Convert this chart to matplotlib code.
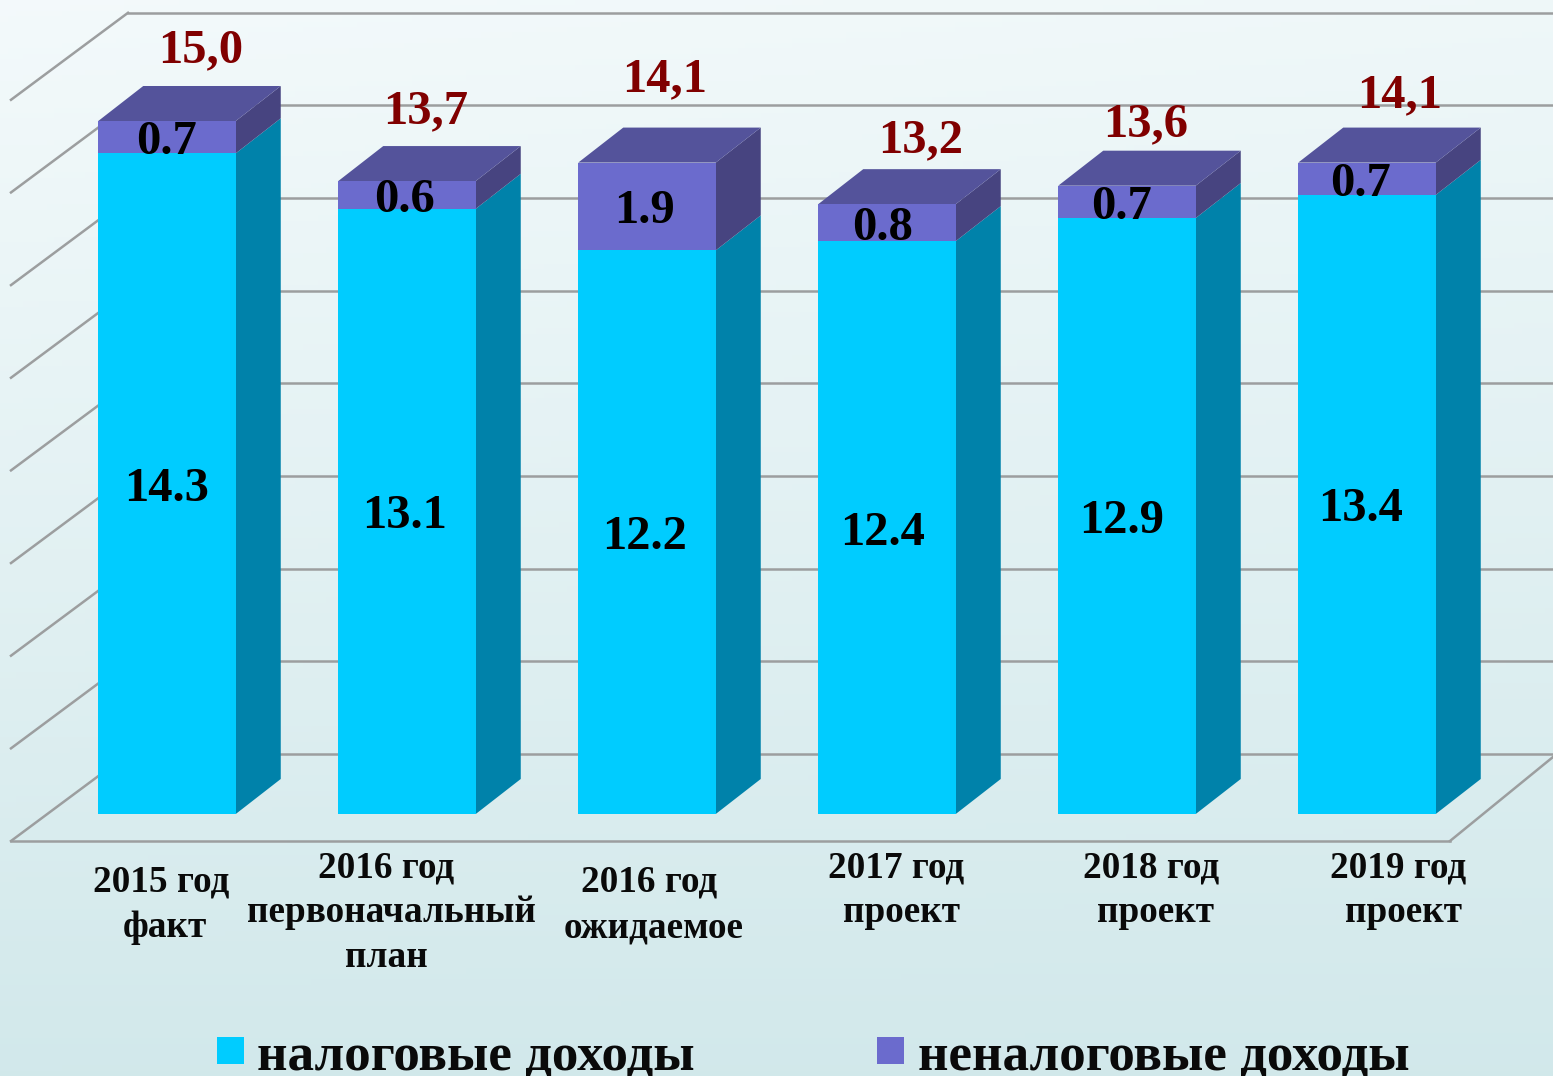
import numpy as np
import matplotlib
matplotlib.use("Agg")
import matplotlib.pyplot as plt

plt.rcParams['font.family'] = ['Liberation Serif', 'DejaVu Serif']
plt.rcParams['font.weight'] = 'bold'

# Data
categories = [["2015 год", "факт"], ["2016 год", "первоначальный", "план"], ["2016 год", "ожидаемое"],
              ["2017 год", "проект"], ["2018 год", "проект"], ["2019 год", "проект"]]
tax = [14.3, 13.1, 12.2, 12.4, 12.9, 13.4]
nontax = [0.7, 0.6, 1.9, 0.8, 0.7, 0.7]
totals = ["15,0", "13,7", "14,1", "13,2", "13,6", "14,1"]
grid_values = [0, 2, 4, 6, 8, 10, 12, 14, 16]

# label offsets in pixels
total_offset = [(34, 71), (19, 70), (18, 83), (34, 64), (19, 61), (33, 67)]
label_dx = [0, -2, -2, -4, -5, -6]
cat_x = [[161, 165], [386, 391, 386], [649, 654], [896, 901], [1151, 1155], [1398, 1403]]
cat_y = [[891, 937], [877, 922, 967], [892, 937], [877, 922], [877, 922], [877, 922]]

# scale of the picture
W, H = 1553, 1076
PX_X = 240.0
PX_Y = 46.2
X0, Y0 = 167, 814
BAR_W = 137.5 / PX_X
DX = 45 / PX_X
DY = 35 / PX_Y
GRID_SCALE = 1.0027

fig = plt.figure(figsize=(W / 100, H / 100), dpi=100)

# background gradient
bg = fig.add_axes([0, 0, 1, 1], zorder=0)
yy, xx = np.mgrid[0:1:200j, 0:1:200j]
t = np.clip(yy * 0.85 + xx * 0.12 * (1 - yy), 0, 1)
top = np.array([0.955, 0.98, 0.985])
bottom = np.array([0.80, 0.90, 0.91])
bg.imshow(top + (bottom - top) * t[..., None], aspect='auto', extent=(0, 1, 0, 1), origin='upper')
bg.axis('off')

ax = fig.add_axes([0, 0, 1, 1], zorder=1)
ax.patch.set_alpha(0)
ax.set_xlim(-X0 / PX_X, (W - X0) / PX_X)
ax.set_ylim((Y0 - H) / PX_Y, Y0 / PX_Y)
ax.axis('off')

# walls and floor, depth measured in px off the front of the floor
grid_c = '#9c9e9f'
wall_x = (11 - X0) / PX_X
wall_dx = 117 / PX_X
wall_dy = 87 / PX_Y
floor_y = (Y0 - 841) / PX_Y
for g in grid_values:
    y = floor_y + g * GRID_SCALE
    ax.plot([wall_x, wall_x + wall_dx], [y, y + wall_dy], color=grid_c, lw=1.8, zorder=1)
    ax.plot([wall_x + wall_dx, ax.get_xlim()[1]], [y + wall_dy, y + wall_dy], color=grid_c, lw=1.8, zorder=1)

floor_r = (1450 - X0) / PX_X
ax.plot([wall_x, floor_r], [floor_y, floor_y], color=grid_c, lw=1.8, zorder=1)
ax.plot([floor_r, ax.get_xlim()[1]], [floor_y, (Y0 - 757) / PX_Y], color=grid_c, lw=1.8, zorder=1)

# bars
pos = np.arange(len(tax))
tax_arr = np.array(tax)
nontax_arr = np.array(nontax)
ax.bar(pos, tax_arr, BAR_W, color='#00ccff', zorder=3)
ax.bar(pos, nontax_arr, BAR_W, bottom=tax_arr, color='#6b6bcd', zorder=3)

for i in pos:
    r = i + BAR_W / 2
    l = i - BAR_W / 2
    t1 = tax_arr[i]
    t2 = t1 + nontax_arr[i]
    # side faces
    for a, b, c in [(0, t1, '#0082aa'), (t1, t2, '#474480')]:
        ax.fill([r, r + DX, r + DX, r], [a, a + DY, b + DY, b], color=c, lw=0, zorder=2)
    # top face
    ax.fill([l, r, r + DX, l + DX], [t2, t2, t2 + DY, t2 + DY], color='#54539b', lw=0, zorder=2)

    ax.annotate(f"{tax[i]}", xy=(i, t1 / 2), xytext=(label_dx[i], -5), textcoords='offset pixels',
                ha='center', va='center', fontsize=35, color='black', zorder=5)
    ax.annotate(f"{nontax[i]}", xy=(i, t1 + nontax_arr[i] / 2), xytext=(label_dx[i], -5), textcoords='offset pixels',
                ha='center', va='center', fontsize=35, color='black', zorder=5)
    ax.annotate(totals[i], xy=(i, t2), xytext=total_offset[i], textcoords='offset pixels',
                ha='center', va='center', fontsize=35, color='#800000', zorder=5)

    for line, lx, ly in zip(categories[i], cat_x[i], cat_y[i]):
        ax.text((lx - X0) / PX_X, (Y0 - ly) / PX_Y, line, ha='center', va='baseline',
                fontsize=26.8, color='#0a0a0a', zorder=5)

# legend
ax.bar([(230 - X0) / PX_X], [27 / PX_Y], 27 / PX_X, bottom=(Y0 - 1064) / PX_Y, color='#00ccff', zorder=3)
ax.bar([(890 - X0) / PX_X], [27 / PX_Y], 27 / PX_X, bottom=(Y0 - 1064) / PX_Y, color='#6b6bcd', zorder=3)
ax.text((257 - X0) / PX_X, (Y0 - 1070) / PX_Y, "налоговые доходы", ha='left', va='baseline',
        fontsize=38.2, color='#0a0a0a', zorder=5)
ax.text((918 - X0) / PX_X, (Y0 - 1070) / PX_Y, "неналоговые доходы", ha='left', va='baseline',
        fontsize=38.2, color='#0a0a0a', zorder=5)

fig.savefig("out.png", dpi=100)
